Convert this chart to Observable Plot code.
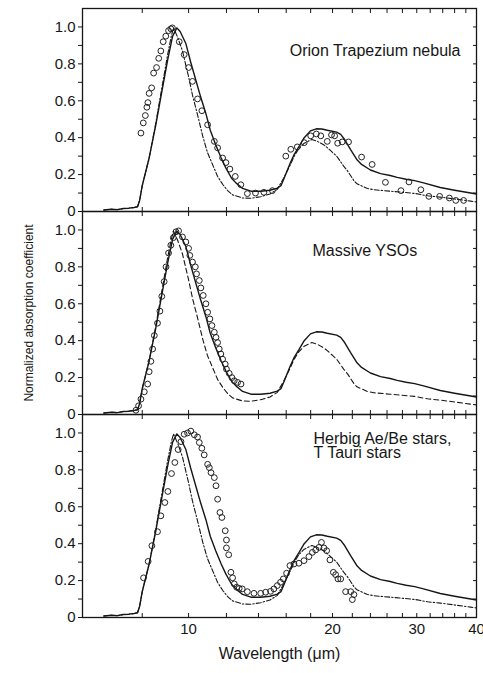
<!DOCTYPE html>
<html><head><meta charset="utf-8">
<script src="https://cdn.jsdelivr.net/npm/d3@7"></script>
<script src="https://cdn.jsdelivr.net/npm/@observablehq/plot@0.6"></script>
<style>
html,body{margin:0;padding:0;background:#fff;}
#chart{width:483px;height:673px;}
</style></head><body><div id="chart"></div>
<script>
// ---------- DATA ----------
const panelNames = ["Orion Trapezium nebula", "Massive YSOs", "Herbig Ae/Be stars,\nT Tauri stars"];
const xLabel = "Wavelength (μm)";
const yLabel = "Normalized absorption coefficient";

const xMajorTicks = [10, 20, 30, 40];
const xTickLabels = ["10", "20", "30", "40"];
const xMinorTicks = [8, 12, 14, 16, 18, 22, 24, 26, 28, 32, 34, 36, 38];
const yMajorTicks = [0, 0.2, 0.4, 0.6, 0.8, 1.0];
const yTickLabels = ["0", "0.2", "0.4", "0.6", "0.8", "1.0"];
const yMinorTicks = [0.1, 0.3, 0.5, 0.7, 0.9];

// model 1 (solid)
const solidX = [6.65, 6.9, 7.1, 7.3, 7.5, 7.7, 7.82, 7.9, 8.0, 8.27, 8.54, 8.82, 9.04, 9.26, 9.45, 9.6, 9.87, 10.1, 10.36, 10.6, 10.87, 11.1, 11.4, 11.7, 11.97, 12.3, 12.56, 12.97, 13.5, 14.15, 14.8, 15.33, 15.6, 15.84, 16.3, 16.63, 17.0, 17.45, 17.98, 18.5, 19.0, 19.5, 20.4, 20.8, 21.2, 21.8, 22.5, 23.0, 24.0, 25.2, 26.4, 27.3, 28.5, 29.7, 31.0, 33.6, 36.0, 38.9, 40];
const solidY = [0.008, 0.012, 0.01, 0.016, 0.018, 0.022, 0.026, 0.06, 0.14, 0.29, 0.47, 0.67, 0.82, 0.95, 0.995, 0.975, 0.91, 0.81, 0.71, 0.62, 0.53, 0.44, 0.36, 0.29, 0.235, 0.18, 0.155, 0.125, 0.11, 0.11, 0.115, 0.127, 0.14, 0.18, 0.26, 0.31, 0.35, 0.40, 0.437, 0.448, 0.447, 0.44, 0.43, 0.418, 0.39, 0.337, 0.28, 0.255, 0.225, 0.205, 0.195, 0.185, 0.175, 0.167, 0.155, 0.13, 0.115, 0.10, 0.095];

// model 2 (dash-dot / dashed)
const dashX = [6.65, 6.9, 7.1, 7.3, 7.5, 7.7, 7.82, 7.9, 8.0, 8.27, 8.54, 8.82, 9.04, 9.2, 9.3, 9.5, 9.71, 10.0, 10.19, 10.45, 10.7, 10.95, 11.2, 11.5, 11.8, 12.1, 12.36, 12.97, 13.5, 14.15, 14.8, 15.33, 15.8, 16.3, 16.63, 17.0, 17.45, 18.1, 18.6, 19.2, 19.5, 20.0, 20.4, 21.1, 21.5, 22.2, 22.5, 23.65, 24.4, 26.4, 27.8, 29.7, 31.6, 33.6, 36.0, 38.9, 40];
const dashY = [0.008, 0.012, 0.01, 0.016, 0.018, 0.022, 0.026, 0.06, 0.14, 0.29, 0.48, 0.69, 0.85, 0.95, 0.995, 0.94, 0.87, 0.73, 0.63, 0.52, 0.41, 0.32, 0.26, 0.19, 0.145, 0.11, 0.09, 0.073, 0.072, 0.08, 0.095, 0.12, 0.18, 0.25, 0.30, 0.34, 0.37, 0.39, 0.38, 0.36, 0.346, 0.32, 0.30, 0.246, 0.22, 0.165, 0.15, 0.125, 0.118, 0.11, 0.105, 0.098, 0.085, 0.078, 0.068, 0.056, 0.052];

// observations: Orion Trapezium
const orionX = [7.95, 8.04, 8.12, 8.18, 8.22, 8.27, 8.37, 8.45, 8.57, 8.66, 8.75, 8.85, 8.96, 9.08, 9.18, 9.25, 9.56, 9.79, 10.0, 10.19, 10.44, 10.66, 10.96, 11.32, 11.5, 11.78, 11.97, 12.2, 12.52, 12.86, 13.27, 13.8, 14.37, 14.97, 15.97, 16.36, 16.88, 17.45, 18.0, 18.5, 18.9, 19.5, 19.9, 20.2, 20.5, 20.95, 21.6, 23.0, 24.2, 25.8, 27.8, 28.9, 30.6, 31.8, 33.5, 35.1, 36.2, 37.6];
const orionY = [0.425, 0.48, 0.52, 0.565, 0.59, 0.64, 0.67, 0.75, 0.78, 0.83, 0.87, 0.92, 0.95, 0.98, 0.99, 0.995, 0.92, 0.85, 0.78, 0.705, 0.61, 0.546, 0.47, 0.38, 0.345, 0.29, 0.265, 0.23, 0.19, 0.145, 0.097, 0.10, 0.104, 0.113, 0.30, 0.337, 0.35, 0.373, 0.41, 0.42, 0.41, 0.38, 0.415, 0.41, 0.37, 0.377, 0.377, 0.295, 0.255, 0.158, 0.113, 0.16, 0.118, 0.082, 0.082, 0.073, 0.06, 0.06];

// observations: Massive YSOs
const ysoX = [7.76, 7.86, 7.95, 8.08, 8.21, 8.27, 8.34, 8.41, 8.48, 8.61, 8.71, 8.79, 8.89, 8.97, 9.08, 9.18, 9.29, 9.41, 9.53, 9.71, 9.87, 10.0, 10.06, 10.19, 10.33, 10.39, 10.53, 10.61, 10.73, 10.87, 10.96, 11.08, 11.19, 11.32, 11.41, 11.5, 11.59, 11.68, 11.78, 11.93, 12.0, 12.16, 12.32, 12.46, 12.66, 12.87];
const ysoY = [0.023, 0.047, 0.083, 0.123, 0.165, 0.232, 0.288, 0.355, 0.428, 0.495, 0.56, 0.64, 0.72, 0.80, 0.875, 0.917, 0.958, 0.99, 0.995, 0.962, 0.935, 0.90, 0.862, 0.826, 0.80, 0.762, 0.726, 0.686, 0.645, 0.60, 0.554, 0.518, 0.482, 0.446, 0.418, 0.39, 0.355, 0.328, 0.30, 0.273, 0.246, 0.223, 0.20, 0.183, 0.174, 0.165];

// observations: Herbig Ae/Be, T Tauri
const herbigX = [8.05, 8.23, 8.38, 8.61, 8.75, 8.92, 9.05, 9.21, 9.36, 9.51, 9.64, 9.79, 9.95, 10.11, 10.28, 10.44, 10.53, 10.66, 10.78, 10.96, 11.05, 11.14, 11.32, 11.41, 11.5, 11.63, 11.74, 11.93, 12.0, 12.0, 12.13, 12.26, 12.36, 12.46, 12.6, 12.76, 12.95, 13.27, 13.7, 14.15, 14.49, 14.84, 15.08, 15.33, 15.57, 15.78, 16.03, 16.29, 16.61, 17.01, 17.43, 17.85, 18.15, 18.44, 18.74, 18.96, 19.19, 19.44, 19.75, 20.08, 20.3, 20.53, 20.8, 21.3, 21.83, 22.17, 22.0];
const herbigY = [0.215, 0.304, 0.389, 0.465, 0.551, 0.623, 0.683, 0.78, 0.84, 0.91, 0.953, 0.993, 1.0, 1.01, 0.99, 0.978, 0.948, 0.917, 0.881, 0.83, 0.812, 0.785, 0.758, 0.714, 0.641, 0.569, 0.542, 0.47, 0.42, 0.377, 0.34, 0.245, 0.215, 0.182, 0.164, 0.158, 0.155, 0.14, 0.131, 0.131, 0.137, 0.142, 0.155, 0.173, 0.191, 0.209, 0.24, 0.281, 0.29, 0.294, 0.308, 0.33, 0.353, 0.366, 0.38, 0.407, 0.377, 0.362, 0.312, 0.245, 0.232, 0.209, 0.209, 0.14, 0.14, 0.124, 0.097];

// ---------- TABLES ----------
const rows = (xs, ys, panel) => xs.map((x, i) => ({x, y: ys[i], panel}));
const solidRows = panelNames.flatMap(p => rows(solidX, solidY, p));
const dashRowsA = [panelNames[0], panelNames[2]].flatMap(p => rows(dashX, dashY, p));
const dashRowsB = rows(dashX, dashY, panelNames[1]);
const obsRows = [
  ...rows(orionX, orionY, panelNames[0]),
  ...rows(ysoX, ysoY, panelNames[1]),
  ...rows(herbigX, herbigY, panelNames[2])
];
const allXTicks = [...xMajorTicks, ...xMinorTicks];
const allYTicks = [...yMajorTicks, ...yMinorTicks];
const ink = "#161616";

const chart = Plot.plot({
  width: 483,
  height: 673,
  marginTop: 8,
  marginBottom: 56,
  marginLeft: 82,
  marginRight: 7,
  style: {fontFamily: "'Liberation Sans', Arial, sans-serif", fontSize: "15px", color: ink, background: "#fff"},
  x: {type: "log", domain: [6, 40]},
  y: {domain: [0, 1.1]},
  fy: {domain: panelNames, axis: null, padding: 0},
  marks: [
    Plot.frame({stroke: ink, strokeWidth: 1.3}),
    Plot.axisY({ticks: yMajorTicks, anchor: "left", tickSize: 4, tickPadding: 3, tickFormat: d => yTickLabels[yMajorTicks.indexOf(d)], label: null, fontSize: 15, stroke: ink, fill: ink}),
    Plot.axisY({ticks: yMinorTicks, anchor: "left", tickSize: 4, tickFormat: () => "", label: null, stroke: ink}),
    Plot.axisY({ticks: allYTicks, anchor: "right", tickSize: -4, tickFormat: () => "", label: null, stroke: ink}),
    Plot.axisX({ticks: allXTicks, anchor: "top", tickSize: -4, tickFormat: () => "", label: null, facetAnchor: null, stroke: ink}),
    Plot.axisX({ticks: allXTicks, anchor: "bottom", tickSize: -4, tickFormat: () => "", label: null, facetAnchor: null, stroke: ink}),
    Plot.axisX({ticks: xMajorTicks, anchor: "bottom", tickSize: 0, tickPadding: 6, tickFormat: d => xTickLabels[xMajorTicks.indexOf(d)], label: null, fontSize: 15, fill: ink}),
    Plot.line(solidRows, {x: "x", y: "y", fy: "panel", stroke: ink, strokeWidth: 1.4}),
    Plot.line(dashRowsA, {x: "x", y: "y", fy: "panel", stroke: ink, strokeWidth: 1.1, strokeDasharray: "5,2,1.5,2"}),
    Plot.line(dashRowsB, {x: "x", y: "y", fy: "panel", stroke: ink, strokeWidth: 1.1, strokeDasharray: "5,3"}),
    Plot.dot(obsRows, {x: "x", y: "y", fy: "panel", r: 2.9, stroke: "#222", strokeWidth: 1, fill: "none"}),
    Plot.text([panelNames[0]], {fy: d => d, text: d => d, frameAnchor: "top-right", textAnchor: "end", dx: -16, dy: 36, fontSize: 16, fill: ink}),
    Plot.text([panelNames[1]], {fy: d => d, text: d => d, frameAnchor: "top-left", textAnchor: "start", dx: 230, dy: 33, fontSize: 16, fill: ink}),
    Plot.text([panelNames[2]], {fy: d => d, text: d => d, frameAnchor: "top-left", textAnchor: "start", lineAnchor: "top", dx: 231, dy: 19, fontSize: 16, lineHeight: 0.9, fill: ink}),
    Plot.text([panelNames[1]], {fy: d => d, text: () => yLabel, frameAnchor: "left", textAnchor: "middle", dx: -53, rotate: -90, fontSize: 12, fill: ink}),
    Plot.text([panelNames[2]], {fy: d => d, text: () => xLabel, frameAnchor: "bottom", dy: 41, fontSize: 16, fill: ink})
  ]
});
document.getElementById("chart").appendChild(chart);
</script></body></html>
